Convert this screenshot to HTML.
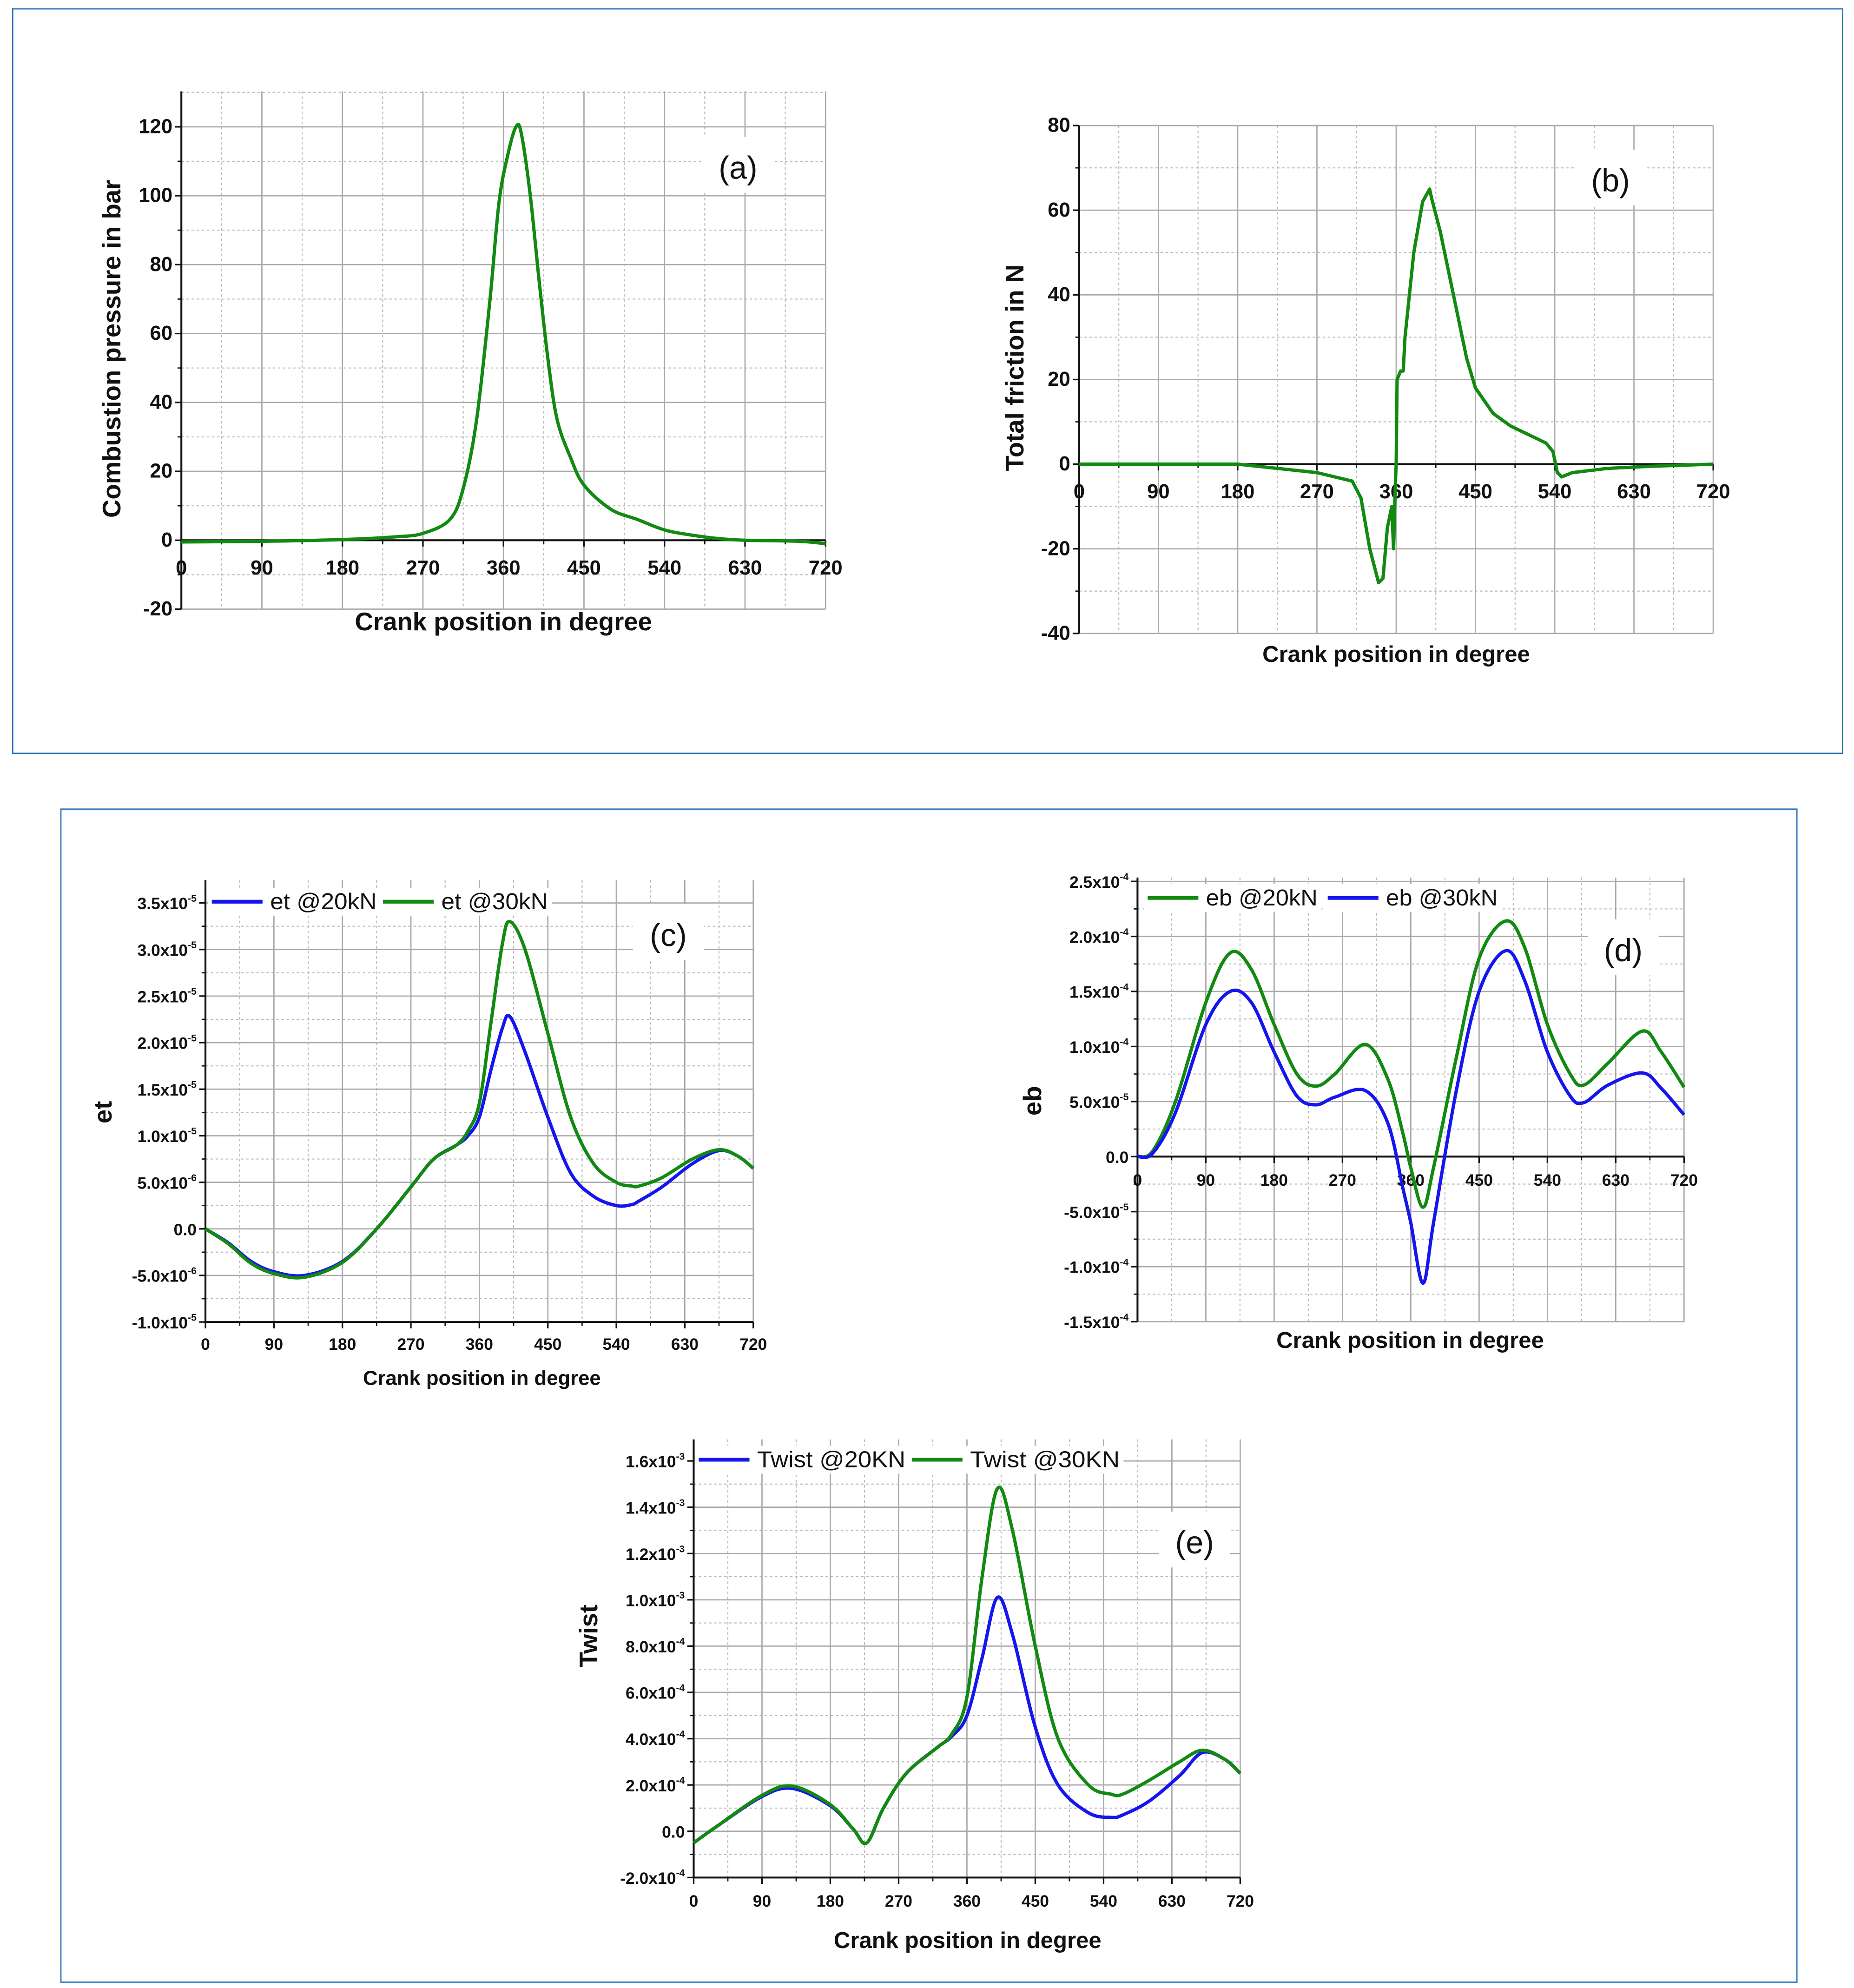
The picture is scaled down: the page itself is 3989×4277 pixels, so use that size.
<!DOCTYPE html>
<html><head><meta charset="utf-8"><style>
html,body{margin:0;padding:0;background:#fff;}
svg{display:block;}
text{font-family:"Liberation Sans",sans-serif;}
</style></head><body>
<svg id="fig" width="3989" height="4277" viewBox="0 0 1462 1567.6" xmlns="http://www.w3.org/2000/svg">
<rect x="10" y="7" width="1443" height="587" fill="none" stroke="#2e75b6" stroke-width="1"/>
<rect x="48" y="638" width="1369" height="925" fill="none" stroke="#2e75b6" stroke-width="1"/>
</svg>
<script>
// ---- data ----
const aX=[0,90,180,240,270,300,315,330,345,355,365,374,380,390,400,410,420,435,450,480,510,540,570,600,630,690,720];
const aY=[-0.5,-0.3,0.2,1,2,6,15,35,70,98,112,120,118,100,75,52,35,24,16,9,6,3,1.5,0.5,0,-0.3,-1];
const bX=[0,180,270,310,320,330,340,345,350,355,357,359,360,361,365,368,370,380,390,398,400,410,420,430,440,450,470,490,510,530,538,543,548,560,600,650,720];
const bY=[0,0,-2,-4,-8,-20,-28,-27,-15,-10,-20,-5,0,20,22,22,30,50,62,65,63,55,45,35,25,18,12,9,7,5,3,-2,-3,-2,-1,-0.5,0];
const cX=[0,30,60,90,130,180,225,270,300,330,345,360,375,390,400,420,450,480,510,540,560,570,600,640,675,700,720];
const cBlue=[0,-1.5,-3.5,-4.6,-5,-3.5,0,4.5,7.5,9,10,12,17,21.5,22.8,19,12,6,3.5,2.5,2.6,3,4.5,7,8.4,7.8,6.5];
const cGreen=[0,-1.6,-3.7,-4.8,-5.2,-3.6,0,4.5,7.5,9,10.5,13.5,22,30.5,33,30,21,12,7,5,4.6,4.6,5.5,7.5,8.5,7.8,6.5];
const dX=[0,20,50,90,122,150,180,210,235,260,300,330,350,360,376,390,420,450,485,510,540,570,588,620,665,690,720];
const dGreen=[0,0.5,5,14,18.5,17,12,7.5,6.4,7.5,10.2,7,2,-1,-4.6,-1,9,18,21.4,19,12,7.5,6.5,8.5,11.4,9.5,6.3];
const dBlue=[0,0.3,4,12,15,14,9.5,5.5,4.7,5.4,6,3,-3,-6,-11.5,-6,6,15,18.7,16,9.5,5.5,4.9,6.5,7.6,6.2,3.8];
const eX=[0,30,90,130,180,210,228,250,280,320,340,360,380,400,420,450,480,520,550,565,600,640,670,700,720];
const eBlue=[-0.5,0.2,1.5,1.85,1.1,0.1,-0.5,1,2.5,3.6,4.1,5,7.5,10.1,8.5,4.5,2,0.8,0.6,0.7,1.3,2.4,3.4,3.1,2.5];
const eGreen=[-0.5,0.2,1.55,1.95,1.15,0.1,-0.5,1,2.5,3.6,4.2,5.8,11,14.8,13,8,4,2,1.6,1.6,2.2,3,3.5,3.1,2.5];
const xTicks=[0,90,180,270,360,450,540,630,720];
const aTicks=[-20,0,20,40,60,80,100,120];
const bTicks=[-40,-20,0,20,40,60,80];
const cTicks=[-10,-5,0,5,10,15,20,25,30,35];
const cTickLbl=["-1.0x10|-5","-5.0x10|-6","0.0","5.0x10|-6","1.0x10|-5","1.5x10|-5","2.0x10|-5","2.5x10|-5","3.0x10|-5","3.5x10|-5"];
const dTicks=[-15,-10,-5,0,5,10,15,20,25];
const dTickLbl=["-1.5x10|-4","-1.0x10|-4","-5.0x10|-5","0.0","5.0x10|-5","1.0x10|-4","1.5x10|-4","2.0x10|-4","2.5x10|-4"];
const eTicks=[-2,0,2,4,6,8,10,12,14,16];
const eTickLbl=["-2.0x10|-4","0.0","2.0x10|-4","4.0x10|-4","6.0x10|-4","8.0x10|-4","1.0x10|-3","1.2x10|-3","1.4x10|-3","1.6x10|-3"];

const NS="http://www.w3.org/2000/svg";
const svg=document.getElementById('fig');
function mk(tag,attrs,parent){const e=document.createElementNS(NS,tag);for(const k in attrs)e.setAttribute(k,attrs[k]);(parent||svg).appendChild(e);return e;}
function lbl(g,x,y,s,size,anchor,name){
  const t=mk('text',{x:x,y:y,'font-size':size,'font-weight':'bold','text-anchor':anchor,fill:'#111'},g);
  
  
  const p=String(s).split('|');
  t.textContent=p[0];
  if(p.length>1){const sp=mk('tspan',{dy:-6,'font-size':size*0.6},t);sp.textContent=p[1];}
  return t;
}
function smooth(pts){let d='M'+pts[0][0]+','+pts[0][1];
  for(let i=0;i<pts.length-1;i++){const p0=pts[Math.max(0,i-1)],p1=pts[i],p2=pts[i+1],p3=pts[Math.min(pts.length-1,i+2)];
   const c1=[p1[0]+(p2[0]-p0[0])/6,p1[1]+(p2[1]-p0[1])/6],c2=[p2[0]-(p3[0]-p1[0])/6,p2[1]-(p3[1]-p1[1])/6];
   d+=' C'+c1[0]+','+c1[1]+' '+c2[0]+','+c2[1]+' '+p2[0]+','+p2[1];}
  return d;}
function chart(c){
  const g=mk('g',{});
  
  
  const sx=v=>c.x0+(v/720)*(c.x1-c.x0);
  const sy=v=>c.yz+(v-c.vz)*(c.yr-c.yz)/(c.vr-c.vz);
  const ybot=sy(c.ymin), ytop=c.ytop;
  for(let v=45;v<=720;v+=90) mk('line',{x1:sx(v),x2:sx(v),y1:ytop,y2:ybot,stroke:'#bbb','stroke-width':0.8,'stroke-dasharray':'2,2'},g);
  for(let i=0;i<c.ticks.length-1;i++){const v=(c.ticks[i]+c.ticks[i+1])/2;mk('line',{x1:c.x0,x2:c.x1,y1:sy(v),y2:sy(v),stroke:'#bbb','stroke-width':0.8,'stroke-dasharray':'2,2'},g);}
  if(c.topMinor){const v=c.ticks[c.ticks.length-1]+(c.ticks[1]-c.ticks[0])/2; if(sy(v)>ytop-1) mk('line',{x1:c.x0,x2:c.x1,y1:sy(v),y2:sy(v),stroke:'#bbb','stroke-width':0.8,'stroke-dasharray':'2,2'},g);}
  for(const v of xTicks) if(v>0) mk('line',{x1:sx(v),x2:sx(v),y1:ytop,y2:ybot,stroke:'#aaa','stroke-width':1},g);
  for(const v of c.ticks) mk('line',{x1:c.x0,x2:c.x1,y1:sy(v),y2:sy(v),stroke:'#aaa','stroke-width':1},g);
  mk('line',{x1:c.x0,x2:c.x0,y1:ytop,y2:ybot,stroke:'#111','stroke-width':1.5},g);
  const yax=sy(c.xaxisAt);
  mk('line',{x1:c.x0,x2:c.x1,y1:yax,y2:yax,stroke:'#111','stroke-width':1.5},g);
  for(const v of xTicks) mk('line',{x1:sx(v),x2:sx(v),y1:yax,y2:yax+5,stroke:'#111','stroke-width':1.2},g);
  for(let v=45;v<=720;v+=90) mk('line',{x1:sx(v),x2:sx(v),y1:yax,y2:yax+3,stroke:'#111','stroke-width':1},g);
  c.ticks.forEach((v,i)=>{mk('line',{x1:c.x0-5,x2:c.x0,y1:sy(v),y2:sy(v),stroke:'#111','stroke-width':1.2},g);
    lbl(g,c.x0-7,sy(v)+5,c.tickLbl?c.tickLbl[i]:v,c.tfs,'end','y-tick-label');});
  for(let i=0;i<c.ticks.length-1;i++){const v=(c.ticks[i]+c.ticks[i+1])/2;mk('line',{x1:c.x0-3,x2:c.x0,y1:sy(v),y2:sy(v),stroke:'#111','stroke-width':1},g);}
  for(const v of xTicks) lbl(g,sx(v),yax+c.xlOff,v,c.tfs,'middle','x-tick-label');
  if(c.legend){c.legend.forEach(l=>{mk('rect',{x:l.lx-3,y:c.legY-11,width:l.tw+52,height:22,fill:'#fff'},g);});}
  c.series.forEach(s=>{
    const pts=s.x.map((xv,i)=>[sx(xv),sy(s.y[i])]);
    const p=mk('path',{d:c.linear?('M'+pts.map(p=>p.join(',')).join(' L')):smooth(pts),fill:'none',stroke:s.color,'stroke-width':2.6,'stroke-linejoin':'round'},g);
    
    
  });
  if(c.legend){c.legend.forEach(l=>{
    const ln=mk('line',{x1:l.lx,x2:l.lx+40,y1:c.legY,y2:c.legY,stroke:l.color,'stroke-width':3},g);
    
    
    const t=mk('text',{x:l.lx+46,y:c.legY+6,'font-size':18,fill:'#111',textLength:l.tw,lengthAdjust:'spacingAndGlyphs'},g);t.textContent=l.text;
    
    
  });}
  mk('rect',{x:c.pl[0]-28,y:c.pl[1]-24,width:56,height:44,fill:'#fff'},g);
  const pt=mk('text',{x:c.pl[0],y:c.pl[1]+9,'font-size':25,'text-anchor':'middle',fill:'#111'},g);pt.textContent=c.plText;
  
  
  const yt=mk('text',{x:c.yt[0],y:c.yt[1],'font-size':20,'font-weight':'bold','text-anchor':'middle',transform:'rotate(-90 '+c.yt[0]+' '+c.yt[1]+')',fill:'#111'},g);
  yt.textContent=c.ytText;
  
  
  const xt=mk('text',{x:c.xt[0],y:c.xt[1],'font-size':c.xfs||20,'font-weight':'bold','text-anchor':'middle',fill:'#111'},g);
  xt.textContent='Crank position in degree';
  
  
}
chart({name:'chart-a-pressure',x0:143,x1:651,yz:426,vz:0,yr:100,vr:120,ymin:-20,ytop:72,ticks:aTicks,topMinor:true,xaxisAt:0,xlOff:27,tfs:16,
  series:[{x:aX,y:aY,color:'#128a12',name:'pressure-line'}],pl:[582,132],plText:'(a)',yt:[95,275],ytText:'Combustion pressure in bar',xt:[397,497]});
chart({name:'chart-b-friction',x0:851,x1:1351,yz:366,vz:0,yr:99,vr:80,ymin:-40,ytop:99,ticks:bTicks,xaxisAt:0,xlOff:27,tfs:16,linear:true,
  series:[{x:bX,y:bY,color:'#128a12',name:'friction-line'}],pl:[1270,142],plText:'(b)',yt:[807,290],ytText:'Total friction in N',xt:[1101,522],xfs:18});
chart({name:'chart-c-et',x0:162,x1:594,yz:969,vz:0,yr:712,vr:35,ymin:-10,ytop:694,ticks:cTicks,tickLbl:cTickLbl,topMinor:false,xaxisAt:-10,xlOff:22,tfs:13,
  series:[{x:cX,y:cBlue,color:'#1515ee',name:'et-20kn-line'},{x:cX,y:cGreen,color:'#128a12',name:'et-30kn-line'}],
  legend:[{lx:167,color:'#1515ee',text:'et @20kN',tw:84},{lx:302,color:'#128a12',text:'et @30kN',tw:84}],legY:711,
  pl:[527,737],plText:'(c)',yt:[88,877],ytText:'et',xt:[380,1092],xfs:16});
chart({name:'chart-d-eb',x0:897,x1:1328,yz:912,vz:0,yr:695,vr:25,ymin:-15,ytop:692,ticks:dTicks,tickLbl:dTickLbl,xaxisAt:0,xlOff:23,tfs:13,
  series:[{x:dX,y:dGreen,color:'#128a12',name:'eb-20kn-line'},{x:dX,y:dBlue,color:'#1515ee',name:'eb-30kn-line'}],
  legend:[{lx:905,color:'#128a12',text:'eb @20kN',tw:88},{lx:1047,color:'#1515ee',text:'eb @30kN',tw:88}],legY:708,
  pl:[1280,749],plText:'(d)',yt:[821,868],ytText:'eb',xt:[1112,1063],xfs:18});
chart({name:'chart-e-twist',x0:547,x1:978,yz:1444,vz:0,yr:1152,vr:16,ymin:-2,ytop:1135,ticks:eTicks,tickLbl:eTickLbl,xaxisAt:-2,xlOff:23,tfs:13,
  series:[{x:eX,y:eBlue,color:'#1515ee',name:'twist-20kn-line'},{x:eX,y:eGreen,color:'#128a12',name:'twist-30kn-line'}],
  legend:[{lx:551,color:'#1515ee',text:'Twist @20KN',tw:117},{lx:719,color:'#128a12',text:'Twist @30KN',tw:118}],legY:1151,
  pl:[942,1216],plText:'(e)',yt:[471,1290],ytText:'Twist',xt:[763,1536],xfs:18});
</script>
</body></html>
